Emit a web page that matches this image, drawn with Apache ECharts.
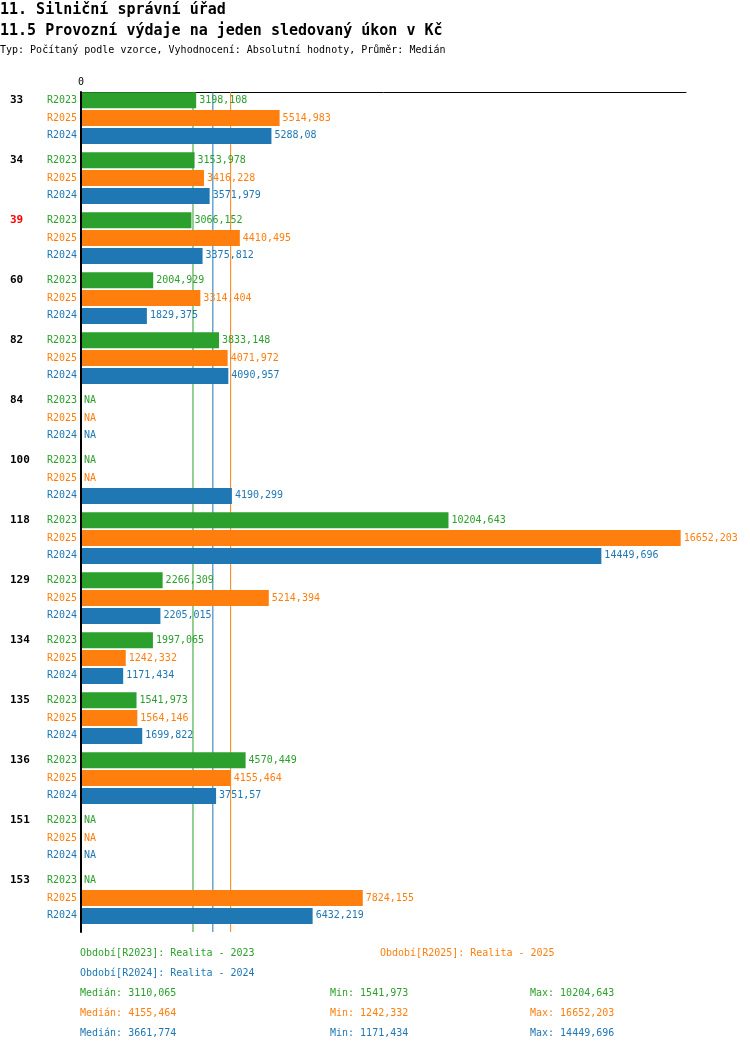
<!DOCTYPE html>
<html>
<head>
<meta charset="utf-8">
<script src="https://cdn.jsdelivr.net/npm/echarts@6/dist/echarts.min.js"></script>
<style>
html, body { margin: 0; padding: 0; background: #fff; }
#chart { width: 750px; height: 1052px; }
</style>
</head>
<body>
<div id="chart"></div>
<script>
// data
const categories = ['33', '34', '39', '60', '82', '84', '100', '118', '129', '134', '135', '136', '151', '153'];
const periods = ['R2023', 'R2025', 'R2024'];
const periodNames = ['Realita - 2023', 'Realita - 2025', 'Realita - 2024'];
const r2023 = [3198.108, 3153.978, 3066.152, 2004.929, 3833.148, null, null, 10204.643, 2266.309, 1997.065, 1541.973, 4570.449, null, null];
const r2025 = [5514.983, 3416.228, 4410.495, 3314.404, 4071.972, null, null, 16652.203, 5214.394, 1242.332, 1564.146, 4155.464, null, 7824.155];
const r2024 = [5288.08, 3571.979, 3375.812, 1829.375, 4090.957, null, 4190.299, 14449.696, 2205.015, 1171.434, 1699.822, 3751.57, null, 6432.219];
const medians = [3110.065, 4155.464, 3661.774];
const mins = [1541.973, 1242.332, 1171.434];
const maxs = [10204.643, 16652.203, 14449.696];
const highlighted = ['39'];

const colors = ['#2ca02c', '#ff7f0e', '#1f77b4'];
const values = [r2023, r2025, r2024];
const mono = '"DejaVu Sans Mono", monospace';

const fmt = v => String(v).replace('.', ',');

const series = [];
periods.forEach((p, i) => {
  const vals = values[i];
  // zero-width bar just to carry the period label left of the axis
  series.push({
    name: p + '_lbl',
    type: 'bar',
    stack: p,
    barWidth: 16,
    barGap: '11%',
    silent: true,
    data: categories.map(() => 0),
    itemStyle: { color: 'rgba(0,0,0,0)' },
    label: {
      show: true, position: 'left', distance: 4, formatter: p,
      color: colors[i], fontFamily: mono, fontSize: 10
    }
  });
  series.push({
    name: p,
    type: 'bar',
    stack: p,
    barWidth: 16,
    z: 3,
    data: vals.map(v => (v === null ? 0 : v)),
    itemStyle: { color: colors[i] },
    label: {
      show: true, position: 'right', distance: 3,
      color: colors[i], fontFamily: mono, fontSize: 10,
      formatter: prm => (vals[prm.dataIndex] === null ? 'NA' : fmt(vals[prm.dataIndex]))
    }
  });
});

// empty slot to push each group to the top of its band
series.push({
  name: 'gap',
  type: 'bar',
  barWidth: 6,
  silent: true,
  data: categories.map(() => 0),
  itemStyle: { color: 'rgba(0,0,0,0)' }
});

// median lines, full height, drawn under the bars
medians.forEach((m, i) => {
  series.push({
    name: periods[i] + '_median',
    type: 'line',
    yAxisIndex: 1,
    z: 1,
    silent: true,
    symbol: 'none',
    lineStyle: { color: colors[i], width: 1 },
    data: [[m, 0], [m, 1]]
  });
});

const texts = [
  { left: 0, top: 3, text: '11. Silniční správní úřad', fontSize: 15, bold: true, color: '#000' },
  { left: 0, top: 24, text: '11.5 Provozní výdaje na jeden sledovaný úkon v Kč', fontSize: 15, bold: true, color: '#000' },
  { left: 0, top: 45, text: 'Typ: Počítaný podle vzorce, Vyhodnocení: Absolutní hodnoty, Průměr: Medián', fontSize: 10, color: '#000' }
];
const legendPos = [[80, 948], [380, 948], [80, 968]];
periods.forEach((p, i) => {
  texts.push({ left: legendPos[i][0], top: legendPos[i][1], text: 'Období[' + p + ']: ' + periodNames[i], fontSize: 10, color: colors[i] });
  const y = 988 + i * 20;
  texts.push({ left: 80, top: y, text: 'Medián: ' + fmt(medians[i]), fontSize: 10, color: colors[i] });
  texts.push({ left: 330, top: y, text: 'Min: ' + fmt(mins[i]), fontSize: 10, color: colors[i] });
  texts.push({ left: 530, top: y, text: 'Max: ' + fmt(maxs[i]), fontSize: 10, color: colors[i] });
});

const chart = echarts.init(document.getElementById('chart'));
chart.setOption({
  animation: false,
  backgroundColor: '#fff',
  grid: { left: 81, top: 92, width: 605, height: 840, containLabel: false },
  xAxis: {
    type: 'value',
    position: 'top',
    min: 0,
    max: 16800,
    interval: 16800,
    splitLine: { show: false },
    axisTick: { show: false },
    axisLine: { show: true, onZero: false, lineStyle: { color: '#000', width: 1 } },
    axisLabel: {
      margin: 5, fontFamily: mono, fontSize: 10, color: '#000',
      formatter: v => (v === 0 ? '0' : '')
    }
  },
  yAxis: [{
    type: 'category',
    inverse: true,
    data: categories,
    z: 4,
    axisTick: { show: false },
    axisLine: { show: true, onZero: false, lineStyle: { color: '#000', width: 2 } },
    axisLabel: {
      interval: 0,
      showMinLabel: true,
      showMaxLabel: true,
      hideOverlap: false,
      align: 'left',
      margin: 71,
      lineHeight: 22,
      // label sits on the first row of its group
      formatter: v => v + '\n\n',
      fontFamily: mono,
      fontSize: 11,
      fontWeight: 'bold',
      color: v => (highlighted.includes(v) ? '#ff0000' : '#000')
    }
  }, {
    type: 'value',
    min: 0,
    max: 1,
    show: false
  }],
  series: series,
  graphic: texts.map(t => ({
    type: 'text', left: t.left, top: t.top, silent: true,
    style: { text: t.text, fill: t.color, font: (t.bold ? 'bold ' : '') + t.fontSize + 'px ' + mono }
  }))
});
</script>
</body>
</html>
